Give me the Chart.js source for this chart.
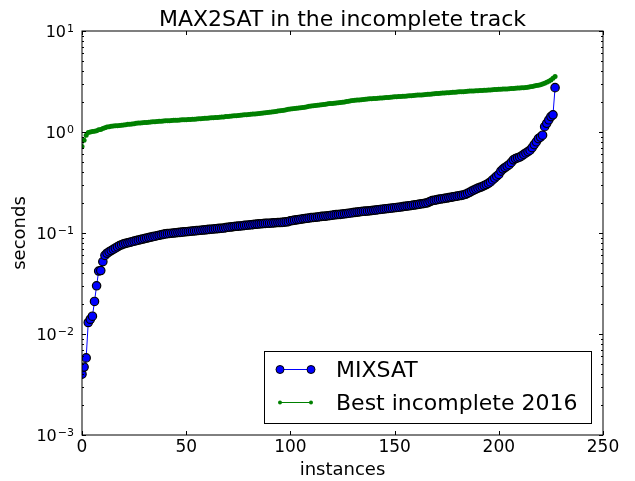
<!DOCTYPE html>
<html>
<head>
<meta charset="utf-8">
<script src="https://cdn.jsdelivr.net/npm/chart.js@4/dist/chart.umd.min.js"></script>
<style>
  html, body { margin: 0; padding: 0; background: #fff; }
  canvas { display: block; }
</style>
</head>
<body>
<canvas id="chart" width="635" height="481"></canvas>
<script>
// sorted run times (seconds) per instance
const mixsat = [
  0.0040, 0.0047, 0.0058, 0.0130, 0.0140, 0.0150, 0.0210, 0.0300, 0.0420, 0.0425,
  0.0520, 0.0600, 0.0630, 0.0650, 0.0670, 0.0690, 0.0710, 0.0730, 0.0750, 0.0765,
  0.0780, 0.0790, 0.0800, 0.0810, 0.0820, 0.0830, 0.0840, 0.0850, 0.0860, 0.0870,
  0.0880, 0.0890, 0.0900, 0.0910, 0.0920, 0.0930, 0.0940, 0.0950, 0.0960, 0.0970,
  0.0980, 0.0985, 0.0990, 0.0995, 0.1000, 0.1005, 0.1010, 0.1015, 0.1020, 0.1025,
  0.1030, 0.1035, 0.1040, 0.1045, 0.1050, 0.1055, 0.1060, 0.1065, 0.1070, 0.1075,
  0.1080, 0.1085, 0.1090, 0.1095, 0.1100, 0.1105, 0.1110, 0.1115, 0.1120, 0.1130,
  0.1140, 0.1145, 0.1150, 0.1160, 0.1165, 0.1170, 0.1175, 0.1180, 0.1190, 0.1195,
  0.1200, 0.1205, 0.1210, 0.1220, 0.1225, 0.1230, 0.1235, 0.1240, 0.1245, 0.1250,
  0.1250, 0.1255, 0.1260, 0.1265, 0.1270, 0.1270, 0.1275, 0.1280, 0.1290, 0.1295,
  0.1320, 0.1330, 0.1340, 0.1350, 0.1360, 0.1370, 0.1380, 0.1390, 0.1400, 0.1410,
  0.1420, 0.1425, 0.1430, 0.1440, 0.1450, 0.1460, 0.1465, 0.1470, 0.1480, 0.1490,
  0.1500, 0.1510, 0.1520, 0.1525, 0.1530, 0.1540, 0.1550, 0.1560, 0.1570, 0.1580,
  0.1590, 0.1600, 0.1610, 0.1620, 0.1630, 0.1640, 0.1645, 0.1650, 0.1660, 0.1670,
  0.1680, 0.1690, 0.1700, 0.1710, 0.1720, 0.1730, 0.1740, 0.1750, 0.1760, 0.1770,
  0.1780, 0.1790, 0.1800, 0.1810, 0.1825, 0.1840, 0.1850, 0.1860, 0.1875, 0.1890,
  0.1900, 0.1915, 0.1930, 0.1945, 0.1960, 0.1980, 0.2000, 0.2050, 0.2090, 0.2110,
  0.2130, 0.2150, 0.2170, 0.2185, 0.2200, 0.2220, 0.2240, 0.2260, 0.2280, 0.2300,
  0.2320, 0.2340, 0.2360, 0.2380, 0.2420, 0.2470, 0.2530, 0.2600, 0.2660, 0.2720,
  0.2780, 0.2830, 0.2880, 0.2950, 0.3020, 0.3100, 0.3200, 0.3350, 0.3500, 0.3650,
  0.3800, 0.4100, 0.4300, 0.4450, 0.4600, 0.4750, 0.5000, 0.5300, 0.5450, 0.5550,
  0.5650, 0.5800, 0.6000, 0.6200, 0.6400, 0.6600, 0.7000, 0.7500, 0.8000, 0.8600,
  0.8900, 0.9300, 1.1300, 1.2200, 1.3200, 1.4200, 1.4800, 2.7500
];

const best2016 = [
  0.72, 0.83, 0.93, 0.99, 1.00, 1.01, 1.02, 1.03, 1.05, 1.06,
  1.08, 1.10, 1.12, 1.13, 1.14, 1.145, 1.15, 1.155, 1.16, 1.165,
  1.17, 1.18, 1.19, 1.195, 1.20, 1.21, 1.22, 1.225, 1.23, 1.235,
  1.24, 1.245, 1.25, 1.255, 1.26, 1.265, 1.27, 1.275, 1.28, 1.285,
  1.29, 1.29, 1.295, 1.30, 1.305, 1.31, 1.31, 1.315, 1.32, 1.32,
  1.325, 1.33, 1.33, 1.335, 1.34, 1.345, 1.35, 1.355, 1.36, 1.365,
  1.37, 1.375, 1.38, 1.385, 1.39, 1.395, 1.40, 1.405, 1.41, 1.42,
  1.425, 1.43, 1.44, 1.445, 1.45, 1.46, 1.465, 1.47, 1.48, 1.485,
  1.49, 1.50, 1.505, 1.51, 1.52, 1.525, 1.53, 1.54, 1.55, 1.56,
  1.57, 1.58, 1.59, 1.60, 1.61, 1.62, 1.63, 1.645, 1.66, 1.675,
  1.69, 1.70, 1.71, 1.72, 1.73, 1.74, 1.75, 1.76, 1.78, 1.80,
  1.81, 1.82, 1.83, 1.84, 1.85, 1.86, 1.87, 1.88, 1.90, 1.91,
  1.92, 1.93, 1.94, 1.95, 1.96, 1.97, 1.98, 2.00, 2.02, 2.04,
  2.05, 2.06, 2.07, 2.08, 2.09, 2.10, 2.11, 2.12, 2.13, 2.14,
  2.145, 2.15, 2.16, 2.165, 2.17, 2.18, 2.19, 2.20, 2.21, 2.22,
  2.23, 2.235, 2.24, 2.25, 2.26, 2.265, 2.27, 2.28, 2.29, 2.30,
  2.31, 2.32, 2.325, 2.33, 2.34, 2.35, 2.36, 2.37, 2.38, 2.39,
  2.40, 2.41, 2.42, 2.43, 2.435, 2.44, 2.45, 2.46, 2.47, 2.48,
  2.49, 2.50, 2.505, 2.51, 2.52, 2.53, 2.54, 2.545, 2.55, 2.56,
  2.565, 2.57, 2.58, 2.59, 2.595, 2.60, 2.61, 2.62, 2.63, 2.64,
  2.645, 2.65, 2.66, 2.665, 2.67, 2.68, 2.69, 2.70, 2.71, 2.72,
  2.73, 2.74, 2.75, 2.76, 2.78, 2.80, 2.82, 2.85, 2.88, 2.91,
  2.94, 2.98, 3.03, 3.10, 3.18, 3.28, 3.40, 3.55
];

const xTicks = [0, 50, 100, 150, 200, 250];
const yTicks = [0.001, 0.01, 0.1, 1, 10];
const yExponents = ['\u22123', '\u22122', '\u22121', '0', '1'];

const FONT = '"DejaVu Sans", "Liberation Sans", sans-serif';

// matplotlib-ish frame: box, inward ticks, log tick labels, title, legend
const decorations = {
  id: 'decorations',
  afterDraw(chart) {
    const { ctx, chartArea: a, scales: { x, y } } = chart;
    ctx.save();
    ctx.strokeStyle = '#000';
    ctx.lineWidth = 1;
    ctx.strokeRect(a.left, a.top, a.right - a.left, a.bottom - a.top);

    // x major ticks, top and bottom
    ctx.beginPath();
    xTicks.forEach(v => {
      const px = Math.round(x.getPixelForValue(v)) + 0.5;
      ctx.moveTo(px, a.bottom); ctx.lineTo(px, a.bottom - 4);
      ctx.moveTo(px, a.top); ctx.lineTo(px, a.top + 4);
    });
    // y major + minor ticks, left and right
    yTicks.forEach((v, i) => {
      const py = Math.round(y.getPixelForValue(v)) + 0.5;
      ctx.moveTo(a.left, py); ctx.lineTo(a.left + 4, py);
      ctx.moveTo(a.right, py); ctx.lineTo(a.right - 4, py);
      if (i < yTicks.length - 1) {
        for (let k = 2; k <= 9; k++) {
          const pm = Math.round(y.getPixelForValue(v * k)) + 0.5;
          ctx.moveTo(a.left, pm); ctx.lineTo(a.left + 2, pm);
          ctx.moveTo(a.right, pm); ctx.lineTo(a.right - 2, pm);
        }
      }
    });
    ctx.stroke();

    // y tick labels as 10^n
    ctx.fillStyle = '#000';
    ctx.textBaseline = 'alphabetic';
    ctx.textAlign = 'left';
    yTicks.forEach((v, i) => {
      const py = y.getPixelForValue(v);
      ctx.font = '16px ' + FONT;
      const w1 = ctx.measureText('10').width;
      ctx.font = '11px ' + FONT;
      const w2 = ctx.measureText(yExponents[i]).width;
      const x0 = a.left - 8 - w1 - w2 - 1;
      ctx.font = '16px ' + FONT;
      ctx.fillText('10', x0, py + 6);
      ctx.font = '11px ' + FONT;
      ctx.fillText(yExponents[i], x0 + w1 + 1, py + 1);
    });

    // title, centred over the plot area
    ctx.font = '22px ' + FONT;
    ctx.textAlign = 'center';
    ctx.fillText('MAX2SAT in the incomplete track', (a.left + a.right) / 2, 26);

    // legend box
    const lx = 264.5, ly = 351.5, lw = 327, lh = 72;
    ctx.fillStyle = '#fff';
    ctx.fillRect(lx, ly, lw, lh);
    ctx.strokeStyle = '#000';
    ctx.strokeRect(lx, ly, lw, lh);
    const rows = [369, 402];
    const legendRadius = [4, 2];
    chart.data.datasets.forEach((ds, i) => {
      const ry = rows[i] + 0.5;
      ctx.strokeStyle = ds.borderColor;
      ctx.lineWidth = ds.borderWidth;
      ctx.beginPath();
      ctx.moveTo(280, ry); ctx.lineTo(311, ry);
      ctx.stroke();
      [280, 311].forEach(mx => {
        ctx.beginPath();
        ctx.arc(mx, ry, legendRadius[i], 0, Math.PI * 2);
        ctx.fillStyle = ds.pointBackgroundColor;
        ctx.fill();
        if (ds.pointBorderWidth > 0) {
          ctx.lineWidth = 1;
          ctx.strokeStyle = ds.pointBorderColor;
          ctx.stroke();
        }
      });
      ctx.fillStyle = '#000';
      ctx.font = '22px ' + FONT;
      ctx.textAlign = 'left';
      ctx.fillText(ds.label, 336, rows[i] + 8);
    });
    ctx.restore();
  }
};

const ctx = document.getElementById('chart').getContext('2d');
const chart = new Chart(ctx, {
  type: 'line',
  data: {
    datasets: [
      {
        label: 'MIXSAT',
        data: mixsat.map((v, i) => ({ x: i, y: v })),
        borderColor: '#0000ff',
        borderWidth: 1,
        pointRadius: 4.2,
        pointBackgroundColor: '#0000ff',
        pointBorderColor: '#000000',
        pointBorderWidth: 1.2,
        tension: 0,
        order: 1
      },
      {
        label: 'Best incomplete 2016',
        data: best2016.map((v, i) => ({ x: i, y: v })),
        borderColor: '#008000',
        borderWidth: 1,
        pointRadius: 2.5,
        pointBackgroundColor: '#008000',
        pointBorderColor: '#008000',
        pointBorderWidth: 0,
        tension: 0,
        order: 0
      }
    ]
  },
  options: {
    responsive: false,
    animation: false,
    events: [],
    layout: { padding: { top: 31, right: 32, left: 0, bottom: 0 } },
    plugins: {
      legend: { display: false },
      tooltip: { enabled: false },
      title: { display: false }
    },
    scales: {
      x: {
        type: 'linear',
        min: 0,
        max: 250,
        grid: { display: false, drawTicks: false },
        border: { display: false },
        ticks: {
          stepSize: 50,
          padding: 2,
          color: '#000',
          font: { family: FONT, size: 17 }
        },
        title: {
          display: true,
          text: 'instances',
          color: '#000',
          font: { family: FONT, size: 18 },
          padding: { top: 0, bottom: 0 }
        },
        afterFit(scale) { scale.height = 46; }
      },
      y: {
        type: 'logarithmic',
        min: 0.001,
        max: 10,
        grid: { display: false, drawTicks: false },
        border: { display: false },
        ticks: { display: false },
        title: {
          display: true,
          text: 'seconds',
          color: '#000',
          font: { family: FONT, size: 18 },
          padding: { top: 10, bottom: 0 }
        },
        afterFit(scale) { scale.width = 82; }
      }
    }
  },
  plugins: [decorations]
});
</script>
</body>
</html>
